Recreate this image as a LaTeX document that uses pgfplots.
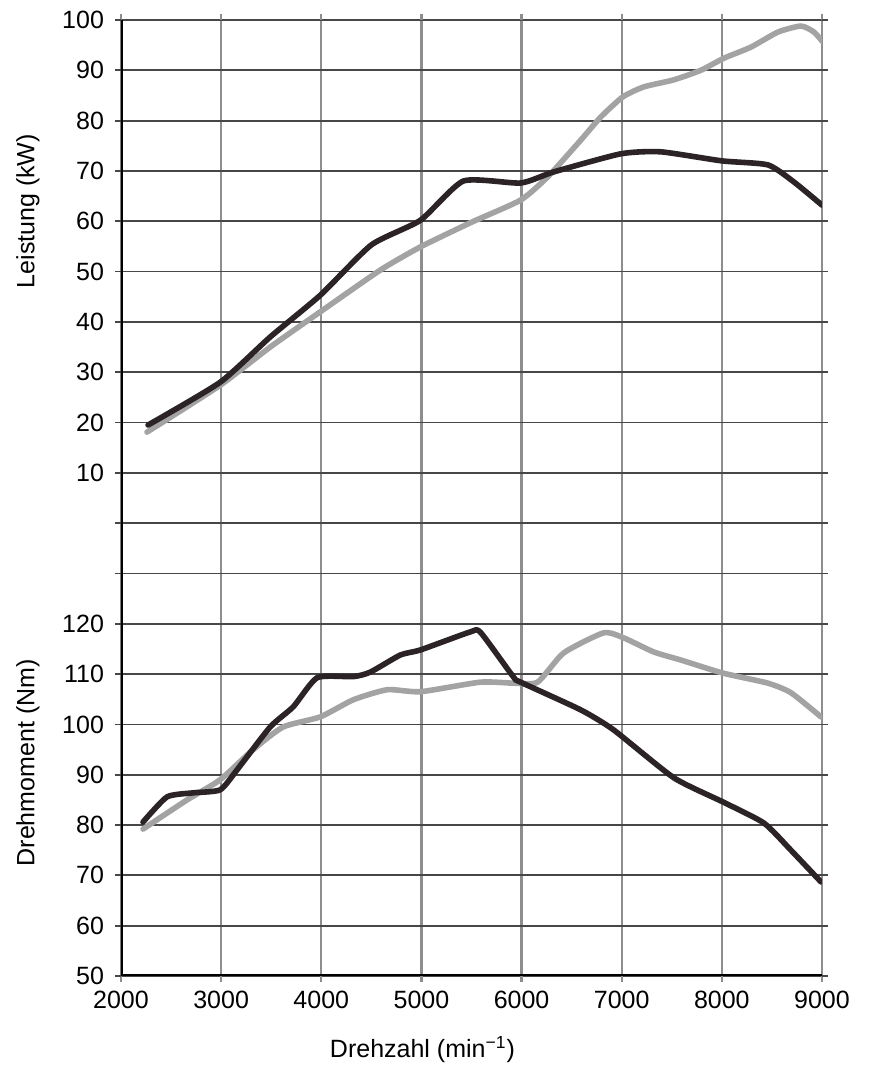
\documentclass[border=0pt]{standalone}
\usepackage{fontspec}
\setmainfont{Liberation Sans}
\usepackage{pgfplots}
\pgfplotsset{compat=1.18}

\definecolor{darkcurve}{HTML}{2B2326}
\definecolor{lightcurve}{HTML}{A3A3A3}
\definecolor{hgrid}{HTML}{474747}
\definecolor{vgrid}{HTML}{8E8E8E}

\pgfplotsset{
  base/.style={
    width=350.5pt, height=478pt, scale only axis,
    at={(0,0)}, anchor=south west,
    xmin=2000, xmax=9000,
    axis line style={draw=none},
    font=\fontsize{12.5}{14}\selectfont,
    /pgf/number format/assume math mode=true,
    /pgf/number format/1000 sep={},
    scaled x ticks=false,
    tick align=outside,
  },
  curve/.style={line width=2.8pt, smooth, tension=0.35, line join=round, line cap=round},
}

\begin{document}
\begin{tikzpicture}
\useasboundingbox (-60.5pt,-52pt) rectangle (378.5pt,488pt);

% Leistung (upper scale) with the full grid
\begin{axis}[base,
  ymin=-90, ymax=100,
  xtick={2000,3000,...,9000},
  ytick={-90,-80,...,100},
  yticklabels={,,,,,,,,,,10,20,30,40,50,60,70,80,90,100},
  xmajorgrids, ymajorgrids,
  x grid style={vgrid, line width=1.2pt},
  y grid style={hgrid, line width=0.9pt},
  major tick length=3pt,
  x tick style={vgrid, line width=1.2pt},
  y tick style={hgrid, line width=0.9pt},
  yticklabel style={xshift=-2pt},
  xticklabel style={yshift=-1pt},
  xlabel={Drehzahl (min\textsuperscript{−1})},
  ylabel={Leistung (kW)},
  every axis x label/.style={at={(axis description cs:0.43,-0.077)}, anchor=center},
  every axis y label/.style={at={(axis description cs:-0.1327,0.80)}, rotate=90, anchor=center},
]
% light curve
\addplot[curve, lightcurve] coordinates {
  (2260,18.1) (2990,27.4) (3490,35.0) (3990,42.0) (4590,50.3) (4990,54.9)
  (5500,59.8) (5990,64.2) (6260,68.8) (6590,76.1) (6790,80.7) (7010,84.7)
  (7220,86.7) (7520,88.1) (7790,90.0) (8020,92.4) (8290,94.6) (8560,97.6)
  (8790,98.8) (8920,97.6) (9010,95.6)
};
% dark curve
\addplot[curve, darkcurve] coordinates {
  (2270,19.5) (2990,28.0) (3490,37.0) (3990,45.3) (4500,55.3) (4990,60.2)
  (5420,68.0) (5990,67.6) (6320,69.8) (6990,73.4) (7390,73.8) (8000,72.0)
  (8460,71.2) (8720,67.8) (9000,63.2)
};
\draw[black, line width=2pt] (rel axis cs:0,0) -- (rel axis cs:0,1);
\draw[black, line width=2pt] (rel axis cs:0,0) -- (rel axis cs:1,0);
\end{axis}

% Drehmoment (lower scale)
\begin{axis}[base,
  ymin=50, ymax=240,
  xtick=\empty,
  ytick={50,60,...,120},
  major tick length=0pt,
  yticklabel style={xshift=-5pt},
  ylabel={Drehmoment (Nm)},
  every axis y label/.style={at={(axis description cs:-0.1327,0.223)}, rotate=90, anchor=center},
]
\addplot[curve, lightcurve] coordinates {
  (2220,79.2) (2660,85.0) (2990,89.0) (3320,95.0) (3620,99.5) (3990,101.5)
  (4320,104.9) (4660,106.9) (4990,106.5) (5590,108.4) (5920,108.2) (6160,108.4)
  (6420,114.2) (6820,118.2) (7020,117.2) (7320,114.4) (7590,112.8) (8010,110.2)
  (8460,108.2) (8690,106.3) (8990,101.5)
};
\addplot[curve, darkcurve] coordinates {
  (2220,80.6) (2460,85.6) (2720,86.4) (2990,87.0) (3160,91.0) (3490,99.5)
  (3720,103.5) (3960,109.3) (4320,109.5) (4490,110.4) (4790,113.8) (4990,114.8)
  (5490,118.4) (5590,118.3) (5920,109.4) (5990,108.4) (6590,102.9) (6920,98.9)
  (7520,89.4) (8010,84.6) (8420,80.4) (8690,75.0) (8990,68.7)
};
\end{axis}
\end{tikzpicture}
\end{document}
